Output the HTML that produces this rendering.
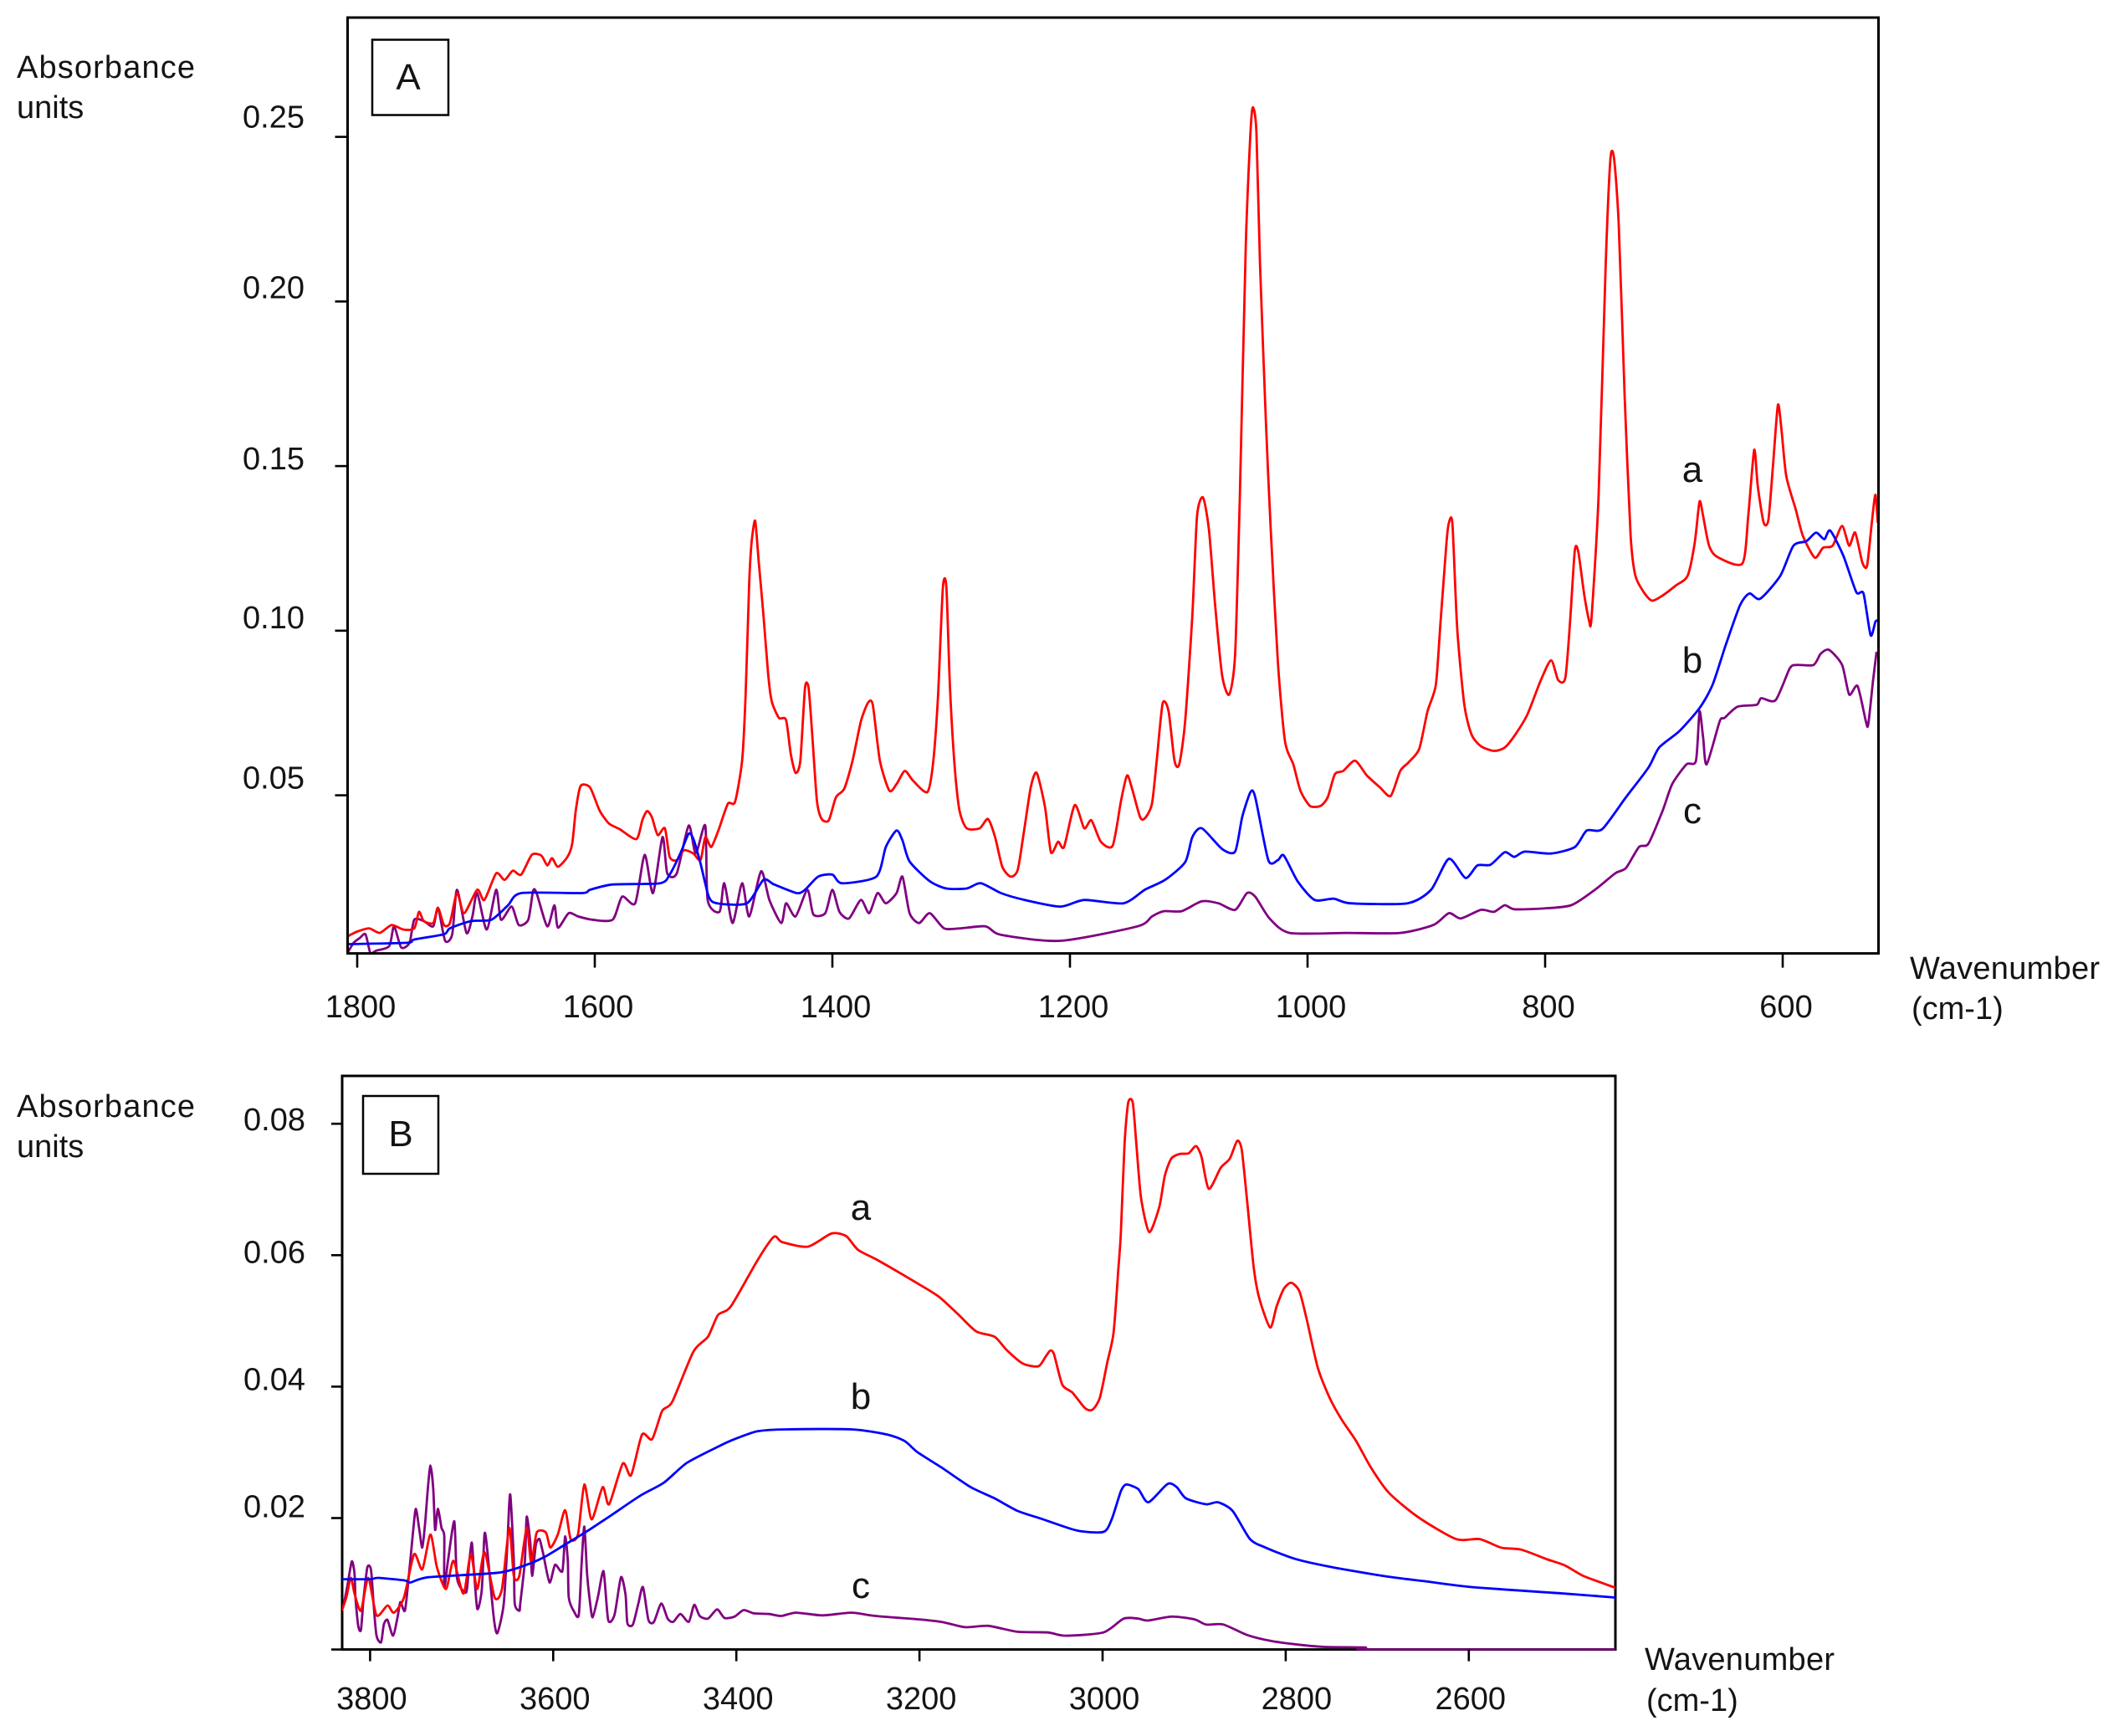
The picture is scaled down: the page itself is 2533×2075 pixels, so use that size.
<!DOCTYPE html>
<html lang="en">
<head>
<meta charset="utf-8">
<title>Absorbance spectra</title>
<style>
html,body{margin:0;padding:0;background:#fff;width:2533px;height:2075px;overflow:hidden}
svg{display:block}
text{font-family:"Liberation Sans",Arial,sans-serif;fill:#141414}
</style>
</head>
<body>
<svg id="chart" xmlns="http://www.w3.org/2000/svg" width="2533" height="2075" viewBox="0 0 2533 2075">
<rect width="2533" height="2075" fill="#fff"/>
<text x="20" y="93" font-size="38" textLength="213" lengthAdjust="spacing">Absorbance</text>
<text x="20" y="141" font-size="38">units</text>
<text x="2283" y="1170" font-size="38" textLength="227" lengthAdjust="spacing">Wavenumber</text>
<text x="2285" y="1218" font-size="38">(cm-1)</text>
<text x="20" y="1335" font-size="38" textLength="213" lengthAdjust="spacing">Absorbance</text>
<text x="20" y="1383" font-size="38">units</text>
<text x="1966" y="1996" font-size="38" textLength="227" lengthAdjust="spacing">Wavenumber</text>
<text x="1968" y="2045" font-size="38">(cm-1)</text>
<g id="panelA"></g>
<g id="panelB"></g>
<rect x="445" y="47.5" width="91" height="90" fill="#fff" stroke="#000" stroke-width="2.5"/>
<text x="488" y="107" font-size="44" text-anchor="middle">A</text>
<rect x="434" y="1310" width="90" height="93" fill="#fff" stroke="#000" stroke-width="2.5"/>
<text x="479" y="1370" font-size="44" text-anchor="middle">B</text>
<text x="2023" y="576" font-size="44" text-anchor="middle">a</text>
<text x="2023" y="804" font-size="44" text-anchor="middle">b</text>
<text x="2023" y="984" font-size="44" text-anchor="middle">c</text>
<text x="1029" y="1458" font-size="44" text-anchor="middle">a</text>
<text x="1029" y="1684" font-size="44" text-anchor="middle">b</text>
<text x="1029" y="1910" font-size="44" text-anchor="middle">c</text>
</svg>
<script>
// Panel A tick labels
const xTicksA = [1800,1600,1400,1200,1000,800,600];
const yTicksA = [0.25,0.20,0.15,0.10,0.05];
// Panel B tick labels
const xTicksB = [3800,3600,3400,3200,3000,2800,2600];
const yTicksB = [0.08,0.06,0.04,0.02];

// Panel A, series a (red)
const waveAa = [1808,1800,1790,1781,1771,1761,1752,1748,1744,1736,1732,1727,1722,1716,1710,1699,1693,1683,1676,1669,1662,1653,1645,1640,1636,1631,1623,1619,1616,1612,1604,1596,1588,1579,1565,1560,1556,1552,1547,1541,1537,1531,1525,1517,1511,1507,1502,1496,1488,1482,1476,1473,1470,1468,1465,1462,1458,1454,1451,1445,1439,1435,1431,1427,1423,1420,1417,1413,1409,1403,1397,1390,1383,1376,1370,1366,1360,1352,1346,1339,1332,1320,1315,1311,1307,1304,1301,1297,1293,1287,1276,1269,1263,1257,1250,1244,1239,1233,1228,1221,1216,1210,1205,1196,1188,1182,1174,1164,1157,1152,1148,1141,1137,1131,1127,1122,1117,1112,1108,1103,1097,1093,1088,1083,1078,1072,1066,1061,1057,1052,1048,1046,1043,1040,1035,1031,1025,1019,1012,1006,998,989,983,977,970,960,950,939,930,922,915,906,899,892,888,883,881,878,874,868,862,854,843,834,825,815,804,795,789,783,779,775,772,767,763,761,755,749,745,742,738,733,728,724,717,710,701,690,680,674,670,667,662,655,634,629,624,621,616,612,608,604,601,597,589,583,573,566,558,550,544,539,533,529,525,522,520];
const absAa = [.0072,.0086,.0096,.0082,.0106,.0092,.0096,.0146,.0118,.0112,.0158,.0106,.0112,.0203,.0142,.0213,.0182,.0263,.0243,.0271,.0259,.0319,.0317,.0287,.0309,.0283,.0313,.0353,.0454,.0528,.0524,.0454,.0414,.0397,.0367,.0424,.0452,.0434,.0379,.04,.0313,.0303,.0333,.0323,.0303,.0373,.0343,.0393,.0474,.048,.0605,.0806,.1147,.1268,.1334,.1208,.1047,.0866,.0785,.0735,.0729,.0625,.0568,.0605,.0826,.0826,.0685,.0484,.0428,.0424,.0494,.052,.0605,.0725,.0781,.0775,.0605,.0514,.0534,.0574,.0544,.051,.0605,.0806,.1131,.1131,.0826,.0584,.0454,.04,.04,.0428,.0373,.0283,.0253,.0273,.0383,.0524,.0568,.0464,.0327,.0359,.0343,.047,.04,.0424,.0359,.0347,.0484,.056,.0524,.0434,.043,.0474,.0605,.0779,.0755,.0605,.0594,.0725,.1047,.1348,.1405,.1308,.1087,.0866,.0806,.0926,.1409,.2172,.2514,.259,.2514,.2112,.163,.1308,.0906,.0665,.0594,.0514,.0468,.0468,.0494,.0564,.0574,.0605,.056,.0524,.0498,.0574,.06,.0641,.0755,.0836,.1027,.1268,.1328,.1324,.1007,.0775,.0685,.0649,.0635,.0645,.0685,.0745,.0846,.091,.085,.0856,.1027,.1244,.1238,.1107,.1031,.1037,.1409,.2112,.2434,.2434,.2233,.171,.1288,.1167,.1117,.1091,.1107,.1137,.1167,.1268,.1392,.1348,.1258,.1224,.1204,.1348,.1549,.1439,.1328,.1338,.1509,.1686,.1609,.1469,.1368,.1288,.1222,.1252,.1258,.1318,.1258,.1298,.1208,.1197,.1328,.1413,.1328];

// Panel A, series b (blue)
const waveAb = [1808,1758,1752,1727,1722,1704,1687,1673,1662,1611,1604,1585,1545,1537,1528,1521,1517,1511,1504,1497,1472,1458,1449,1430,1423,1412,1400,1392,1363,1355,1346,1341,1335,1318,1304,1287,1275,1258,1238,1208,1188,1155,1137,1120,1103,1097,1089,1072,1061,1055,1048,1044,1033,1025,1020,1008,994,978,964,916,896,881,867,857,846,834,826,817,795,775,765,752,732,713,704,687,670,659,648,636,628,619,602,591,580,572,565,560,549,538,532,526,522,520];
const absAb = [.0048,.0052,.0062,.0078,.0096,.0118,.0122,.0166,.0203,.0203,.0213,.0229,.0233,.0259,.0323,.0383,.0367,.0293,.0192,.0172,.0172,.0243,.0229,.0203,.0213,.0253,.0259,.0233,.0253,.0343,.0393,.0363,.0299,.0239,.0217,.0217,.0233,.0203,.0182,.0162,.0182,.0172,.0213,.0243,.0297,.0373,.04,.0337,.0329,.0434,.051,.0494,.0303,.0303,.0317,.0237,.0182,.0186,.0172,.0172,.0213,.0307,.0249,.0287,.0289,.0327,.0313,.0329,.0323,.0343,.0393,.0397,.0494,.0584,.0645,.0695,.0765,.0836,.0956,.1077,.1113,.1097,.1167,.1258,.1272,.1298,.1278,.1304,.1228,.1117,.1113,.0986,.1027,.1031];

// Panel A, series c (purple)
const waveAc = [1808,1803,1798,1793,1789,1784,1773,1769,1763,1756,1752,1744,1736,1732,1726,1720,1716,1708,1703,1699,1691,1683,1679,1670,1664,1656,1652,1649,1640,1634,1631,1622,1614,1602,1585,1577,1566,1558,1551,1543,1539,1531,1521,1515,1507,1505,1495,1491,1484,1476,1470,1460,1453,1443,1439,1431,1421,1416,1406,1400,1394,1386,1376,1369,1362,1355,1346,1341,1335,1327,1318,1306,1292,1271,1258,1208,1143,1131,1121,1106,1089,1075,1061,1051,1044,1032,1015,967,922,894,881,871,854,843,834,826,803,778,758,741,732,721,713,701,693,681,673,670,667,664,653,649,638,622,618,606,594,588,574,568,561,550,544,537,530,528,524,521];
const absAc = [.0022,.0052,.0066,.0078,.0022,.0028,.0042,.0102,.0038,.0052,.0122,.0118,.0102,.0158,.0058,.0078,.0213,.0082,.0132,.0203,.0092,.0213,.0122,.0162,.0106,.0122,.0209,.0203,.0102,.0166,.0098,.0142,.0132,.0122,.0122,.0192,.0172,.0319,.0203,.0373,.0263,.0263,.0408,.0323,.0408,.0182,.0146,.0233,.0112,.0233,.0132,.0269,.0182,.0112,.0172,.0132,.0213,.0138,.0142,.0213,.0146,.0126,.0182,.0142,.0203,.0172,.0203,.0253,.0142,.0112,.0142,.0096,.0096,.0102,.0076,.0058,.0102,.0132,.0148,.0148,.0178,.0172,.0152,.0203,.0192,.0126,.0082,.0082,.0082,.0106,.0142,.0126,.0152,.0146,.0166,.0154,.0156,.0166,.0213,.0263,.0279,.0343,.0353,.0454,.0534,.0594,.0605,.0755,.0675,.0594,.0725,.0735,.0769,.0775,.0795,.0789,.0886,.0896,.0896,.093,.0942,.0896,.0806,.0832,.0725,.0715,.0846,.0936];

// Panel B, series a (red)
const waveBa = [3831,3826,3821,3817,3810,3802,3793,3781,3774,3763,3752,3743,3734,3727,3717,3709,3698,3690,3683,3675,3664,3656,3648,3643,3637,3629,3624,3618,3608,3603,3595,3587,3581,3573,3566,3558,3546,3539,3524,3515,3503,3492,3481,3470,3447,3431,3420,3406,3377,3359,3350,3322,3296,3280,3267,3245,3202,3179,3157,3138,3118,3105,3087,3070,3062,3057,3053,3044,3033,3019,3011,3003,2995,2988,2983,2980,2976,2972,2967,2963,2958,2949,2938,2932,2925,2916,2906,2898,2892,2884,2871,2861,2853,2848,2842,2835,2829,2817,2810,2802,2794,2785,2777,2765,2752,2739,2723,2707,2687,2655,2614,2588,2565,2543,2514,2495,2475,2440];
const absBa = [.0059,.0079,.0109,.0085,.0059,.0109,.0052,.0067,.0056,.0079,.0145,.0122,.0175,.0125,.0092,.0135,.0085,.0145,.0092,.0148,.0079,.0092,.0185,.0112,.0112,.0185,.0132,.0178,.0178,.0155,.0175,.0212,.0168,.0175,.0251,.0198,.0247,.0221,.0283,.0265,.0327,.032,.0363,.0377,.0453,.0476,.0509,.0522,.0592,.0628,.062,.0613,.0633,.0629,.0608,.0592,.0557,.0537,.0509,.0484,.0476,.0456,.0435,.0431,.0446,.0455,.0449,.0403,.0391,.0367,.0365,.0383,.0436,.0482,.0575,.0635,.077,.0832,.0832,.0767,.0687,.0635,.0674,.0721,.0747,.0754,.0755,.0766,.075,.0701,.0733,.0747,.0774,.076,.0681,.0582,.0535,.049,.0522,.0549,.0558,.0545,.0502,.0429,.0383,.035,.0317,.0277,.0238,.0201,.0168,.0168,.0155,.0152,.0137,.0128,.0112,.0094];

// Panel B, series b (blue)
const waveBb = [3831,3800,3791,3762,3756,3736,3659,3627,3608,3589,3563,3537,3505,3479,3454,3418,3402,3377,3345,3274,3235,3216,3202,3176,3144,3118,3093,3067,3028,2999,2990,2980,2974,2961,2950,2929,2919,2909,2887,2874,2858,2839,2822,2790,2752,2694,2649,2597,2495,2440];
const absBb = [.0107,.0107,.0109,.0105,.0102,.011,.0117,.013,.0142,.0158,.018,.0204,.0234,.0254,.0284,.031,.032,.0332,.0335,.0335,.0327,.0317,.03,.0277,.0247,.023,.0211,.0199,.0181,.0179,.0198,.0241,.0251,.0244,.0224,.0252,.0247,.023,.0221,.0224,.0211,.0168,.0155,.0138,.0126,.0112,.0104,.0095,.0085,.0079];

// Panel B, series c (purple)
const waveBc = [3830,3828,3825,3820,3817,3816,3813,3810,3807,3803,3799,3796,3793,3788,3785,3781,3775,3770,3767,3762,3758,3753,3750,3746,3743,3740,3737,3734,3731,3729,3726,3722,3719,3719,3715,3708,3705,3695,3692,3689,3687,3683,3678,3675,3672,3665,3661,3654,3650,3647,3643,3642,3637,3636,3631,3629,3625,3623,3619,3615,3611,3604,3598,3590,3587,3584,3583,3577,3572,3569,3566,3563,3560,3557,3551,3545,3540,3533,3526,3521,3519,3513,3507,3502,3496,3490,3482,3475,3469,3461,3452,3446,3440,3431,3421,3413,3402,3392,3381,3364,3351,3335,3306,3274,3248,3202,3176,3150,3125,3093,3060,3041,2999,2977,2961,2951,2925,2900,2887,2868,2842,2816,2790,2758,2713,2707,2440];
const absBc = [.0062,.0074,.0095,.0134,.0115,.0079,.0036,.003,.0079,.0125,.0121,.0066,.0021,.0011,.0038,.0045,.0021,.0049,.0072,.0059,.0108,.018,.0214,.018,.0155,.0191,.0244,.028,.0244,.0182,.0214,.0185,.0172,.0095,.0134,.0195,.0108,.0087,.0129,.0163,.0129,.0062,.0091,.0176,.0151,.0049,.0025,.007,.0163,.0236,.0134,.007,.0059,.007,.0134,.0202,.0163,.0112,.0159,.0168,.0146,.0102,.0129,.0119,.0172,.0134,.0079,.0057,.0053,.013,.0187,.0115,.0074,.0049,.0081,.0119,.0045,.0053,.011,.0083,.004,.0038,.007,.0095,.0045,.0042,.007,.0047,.0042,.0054,.0042,.0068,.0051,.0047,.0061,.0048,.005,.006,.0055,.0054,.0051,.0056,.0052,.0056,.0051,.0046,.0042,.0034,.0036,.0027,.0026,.0021,.0026,.0047,.0047,.0044,.005,.0046,.0038,.0038,.0022,.0013,.0008,.0004,.0003,0,0];

const SVGNS = 'http://www.w3.org/2000/svg';
const RED = '#ff0000', BLUE = '#0000ff', PURPLE = '#800080';

// Axis functions
const xA = w => 427 + (1800 - w) * 1.42;
const yA = v => 950.6 - (v - 0.05) * 3935;
const xB = w => 442.4 + (3800 - w) * 1.0945;
const yB = v => 1971.6 - v * 7855;

function mk(parent, tag, attrs, text) {
  const el = document.createElementNS(SVGNS, tag);
  for (const k in attrs) el.setAttribute(k, attrs[k]);
  if (text !== undefined) el.textContent = text;
  parent.appendChild(el);
  return el;
}

// Slightly rounded curve through the sampled points, so peaks are not sharp corners
function drawLine(parent, clipId, xs, ys, fx, fy, color) {
  const p = xs.map((w, i) => [fx(w), fy(ys[i])]);
  const t = 0.12;
  let d = 'M' + p[0][0].toFixed(1) + ' ' + p[0][1].toFixed(1);
  for (let i = 0; i < p.length - 1; i++) {
    const a = p[Math.max(i - 1, 0)], b = p[i], c = p[i + 1], e = p[Math.min(i + 2, p.length - 1)];
    d += 'C' + (b[0] + (c[0] - a[0]) * t).toFixed(1) + ' ' + (b[1] + (c[1] - a[1]) * t).toFixed(1) + ' ' +
         (c[0] - (e[0] - b[0]) * t).toFixed(1) + ' ' + (c[1] - (e[1] - b[1]) * t).toFixed(1) + ' ' +
         c[0].toFixed(1) + ' ' + c[1].toFixed(1);
  }
  return mk(parent, 'path', {d: d, fill: 'none', stroke: color, 'stroke-width': 2.8, 'stroke-linejoin': 'round', 'clip-path': 'url(#' + clipId + ')'});
}

function drawFrame(g, box) {
  const frame = mk(g, 'rect', {x: box.l, y: box.t, width: box.r - box.l, height: box.b - box.t, fill: 'none', stroke: '#000', 'stroke-width': 3});
  
  
}

function clip(id, box) {
  const cp = mk(document.getElementById('chart'), 'clipPath', {id: id});
  mk(cp, 'rect', {x: box.l, y: box.t, width: box.r - box.l, height: box.b - box.t + 1});
}

// Panel A
(function () {
  const g = document.getElementById('panelA');
  const box = {l: 415.5, r: 2245.5, t: 21, b: 1139.6};
  const yNudge = {0.25: -11, 0.2: -4, 0.15: 4, 0.1: -3, 0.05: -8};
  clip('clipA', box);
  const c = drawLine(g, 'clipA', waveAc, absAc, xA, yA, PURPLE);
  
  
  const a = drawLine(g, 'clipA', waveAa, absAa, xA, yA, RED);
  
  
  const b = drawLine(g, 'clipA', waveAb, absAb, xA, yA, BLUE);
  
  
  drawFrame(g, box);
  xTicksA.forEach(w => {
    const t = mk(g, 'line', {x1: xA(w), x2: xA(w), y1: box.b, y2: box.b + 17, stroke: '#000', 'stroke-width': 2.6});
    
    
    const l = mk(g, 'text', {x: xA(w) + 4, y: 1216, 'font-size': 38, 'text-anchor': 'middle'}, String(w));
    
    
  });
  yTicksA.forEach(v => {
    const t = mk(g, 'line', {x1: box.l - 15, x2: box.l, y1: yA(v), y2: yA(v), stroke: '#000', 'stroke-width': 2.6});
    
    
    const l = mk(g, 'text', {x: 290, y: yA(v) + yNudge[v], 'font-size': 38}, v.toFixed(2));
    
    
  });
})();

// Panel B
(function () {
  const g = document.getElementById('panelB');
  const box = {l: 409, r: 1931, t: 1286, b: 1971.6};
  const yNudge = {0.08: 8, 0.06: 9, 0.04: 4, 0.02: -1};
  clip('clipB', box);
  const base = mk(g, 'line', {x1: 396, x2: box.l, y1: box.b, y2: box.b, stroke: '#000', 'stroke-width': 2.6});
  
  
  drawFrame(g, box);
  const c = drawLine(g, 'clipB', waveBc, absBc, xB, yB, PURPLE);
  
  
  const a = drawLine(g, 'clipB', waveBa, absBa, xB, yB, RED);
  
  
  const b = drawLine(g, 'clipB', waveBb, absBb, xB, yB, BLUE);
  
  
  xTicksB.forEach(w => {
    const t = mk(g, 'line', {x1: xB(w), x2: xB(w), y1: box.b, y2: box.b + 14, stroke: '#000', 'stroke-width': 2.6});
    
    
    const nudge = w === 2800 ? 13 : 2;
    const l = mk(g, 'text', {x: xB(w) + nudge, y: 2043, 'font-size': 38, 'text-anchor': 'middle'}, String(w));
    
    
  });
  yTicksB.forEach(v => {
    const t = mk(g, 'line', {x1: box.l - 13, x2: box.l, y1: yB(v), y2: yB(v), stroke: '#000', 'stroke-width': 2.6});
    
    
    const l = mk(g, 'text', {x: 291, y: yB(v) + yNudge[v], 'font-size': 38}, v.toFixed(2));
    
    
  });
})();
</script>
</body>
</html>
